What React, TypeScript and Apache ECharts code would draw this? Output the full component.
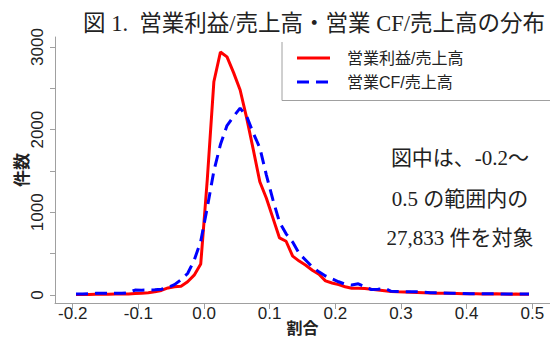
import React, { useEffect, useRef } from "react";
import * as echarts from "echarts";

const binCenters = [
  -0.195, -0.185, -0.175, -0.165, -0.155, -0.145, -0.135, -0.125, -0.115, -0.105,
  -0.095, -0.085, -0.075, -0.065, -0.055, -0.045, -0.035, -0.025, -0.015, -0.005,
  0.005, 0.015, 0.025, 0.035, 0.045, 0.055, 0.065, 0.075, 0.085, 0.095,
  0.105, 0.115, 0.125, 0.135, 0.145, 0.155, 0.165, 0.175, 0.185, 0.195,
  0.205, 0.215, 0.225, 0.235, 0.245, 0.255, 0.265, 0.275, 0.285, 0.295,
  0.305, 0.315, 0.325, 0.335, 0.345, 0.355, 0.365, 0.375, 0.385, 0.395,
  0.405, 0.415, 0.425, 0.435, 0.445, 0.455, 0.465, 0.475, 0.485, 0.495,
];

const opProfit = [
  5, 5, 5, 8, 8, 10, 12, 12, 12, 18,
  22, 28, 38, 55, 85, 100, 105, 160, 240, 375,
  1400, 2580, 2940, 2880, 2690, 2480, 2140, 1760, 1370, 1170,
  930, 690, 650, 470, 410, 360, 300, 250, 170, 145,
  125, 100, 82, 80, 78, 68, 60, 52, 42, 38,
  35, 32, 30, 28, 25, 22, 20, 20, 18, 16,
  15, 14, 12, 12, 14, 12, 10, 12, 10, 8,
];

const opCF = [
  12, 12, 15, 20, 20, 20, 22, 20, 28, 60,
  58, 60, 62, 70, 90, 125, 185, 260, 420, 650,
  1060, 1500, 1820, 2050, 2160, 2260, 2160, 1960, 1780, 1450,
  1150, 880, 740, 640, 500, 420, 340, 280, 230, 195,
  160, 130, 120, 135, 100, 65, 70, 80, 45, 42,
  40, 40, 38, 35, 28, 26, 24, 20, 20, 18,
  16, 16, 14, 14, 14, 12, 12, 12, 12, 12,
];

const seriesNames = ["営業利益/売上高", "営業CF/売上高"];
const seriesColors = ["#ff0000", "#0000ff"];
const xTicks = [-0.2, -0.1, 0.0, 0.1, 0.2, 0.3, 0.4, 0.5];
const yTicks = [0, 500, 1000, 1500, 2000, 2500, 3000];
const yLabels = [0, 1000, 2000, 3000];
const titleText = "図 1.  営業利益/売上高・営業 CF/売上高の分布";
const noteLines = ["図中は、-0.2～", "0.5 の範囲内の", "27,833 件を対象"];

const SANS = "Liberation Sans, Arial, Noto Sans CJK JP, sans-serif";
const SERIF = "Liberation Serif, DejaVu Serif, Noto Sans CJK JP, serif";
const DASH = [12, 7];

export default function App() {
  const ref = useRef<HTMLDivElement>(null);
  useEffect(() => {
    if (!ref.current) return;
    const chart = echarts.init(ref.current, null, { renderer: "svg" });
    const toPairs = (vals: number[]) => binCenters.map((x, i) => [x, vals[i]]);
    const legendY = [58, 82];
    chart.setOption({
      animation: false,
      backgroundColor: "#ffffff",
      grid: {
        left: 55,
        right: 0,
        top: 37,
        bottom: 36,
        containLabel: false,
        outerBoundsMode: "none",
      },
      xAxis: {
        type: "value",
        min: -0.227,
        max: 0.527,
        name: "割合",
        nameLocation: "middle",
        nameGap: 17,
        nameMoveOverlap: false,
        nameTextStyle: { fontSize: 16, fontWeight: "bold", color: "#222", fontFamily: SANS },
        axisLine: { show: true, onZero: false, lineStyle: { color: "#a0a0a0", width: 1 } },
        axisTick: { show: true, customValues: xTicks, length: 6, lineStyle: { color: "#a0a0a0" } },
        axisLabel: {
          customValues: xTicks,
          formatter: (v: number) => v.toFixed(1),
          fontSize: 17,
          color: "#222",
          fontFamily: SANS,
          margin: 2,
        },
        splitLine: { show: false },
      },
      yAxis: {
        type: "value",
        min: -97,
        max: 3121,
        name: "件数",
        nameLocation: "middle",
        nameGap: 24,
        nameRotate: 90,
        nameMoveOverlap: false,
        nameTextStyle: { fontSize: 17, fontWeight: "bold", color: "#222", fontFamily: SANS },
        axisLine: { show: true, onZero: false, lineStyle: { color: "#a0a0a0", width: 1 } },
        axisTick: { show: true, customValues: yTicks, length: 5, lineStyle: { color: "#a0a0a0" } },
        axisLabel: {
          customValues: yLabels,
          formatter: (v: number) => String(Math.round(v)),
          rotate: 90,
          fontSize: 17,
          color: "#222",
          fontFamily: SANS,
          margin: 9,
        },
        splitLine: { show: false },
      },
      graphic: [
        {
          type: "polyline",
          shape: { points: [[282, 42], [282, 100.5], [552, 100.5]] },
          style: { stroke: "#a0a0a0", lineWidth: 1, fill: "none" },
          silent: true,
        },
        ...seriesNames.map((n, i) => ({
          type: "line",
          shape: { x1: 297, y1: legendY[i], x2: 330, y2: legendY[i] },
          style: {
            stroke: seriesColors[i],
            lineWidth: 3,
            lineDash: i === 1 ? DASH : null,
          },
          silent: true,
        })),
        ...seriesNames.map((n, i) => ({
          type: "text",
          x: 347,
          y: legendY[i],
          style: {
            text: n,
            fontSize: 16,
            fontFamily: SANS,
            fill: "#222",
            verticalAlign: "middle",
          },
        })),
        {
          type: "text",
          x: 83,
          y: 23,
          style: {
            text: titleText,
            fontSize: 22.5,
            fontFamily: SERIF,
            fill: "#222",
            verticalAlign: "middle",
          },
        },
        ...noteLines.map((t, i) => ({
          type: "text",
          x: 460,
          y: [158, 199, 238][i],
          style: {
            text: t,
            fontSize: 21,
            fontFamily: SERIF,
            fill: "#222",
            align: "center",
            verticalAlign: "middle",
          },
        })),
      ],
      series: [
        {
          name: seriesNames[0],
          type: "line",
          data: toPairs(opProfit),
          showSymbol: false,
          symbol: "none",
          lineStyle: { color: seriesColors[0], width: 3 },
          itemStyle: { color: seriesColors[0] },
          z: 3,
        },
        {
          name: seriesNames[1],
          type: "line",
          data: toPairs(opCF),
          showSymbol: false,
          symbol: "none",
          lineStyle: { color: seriesColors[1], width: 3, type: DASH },
          itemStyle: { color: seriesColors[1] },
          z: 4,
        },
      ],
    });
    return () => chart.dispose();
  }, []);
  return (
    <div
      ref={ref}
      style={{ position: "fixed", left: 0, top: 0, width: 550, height: 339 }}
    />
  );
}
